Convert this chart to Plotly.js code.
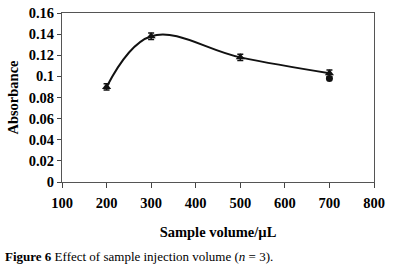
<!DOCTYPE html>
<html>
<head>
<meta charset="utf-8">
<script src="https://cdn.plot.ly/plotly-3.0.1.min.js"></script>
<style>html,body{margin:0;padding:0;background:#fff;}#chart{width:403px;height:268px;}</style>
</head>
<body>
<div id="chart"></div>
<script>
var volumes = [200, 300, 500, 700];
var absorbance = [0.090, 0.138, 0.118, 0.103];
var errors = [0.003, 0.003, 0.003, 0.003];
var circleX = [700];
var circleY = [0.098];
var xTicks = [100, 200, 300, 400, 500, 600, 700, 800];
var yTicks = [0, 0.02, 0.04, 0.06, 0.08, 0.1, 0.12, 0.14, 0.16];
var yTickText = ['0', '0.02', '0.04', '0.06', '0.08', '0.1', '0.12', '0.14', '0.16'];

var font = {family: 'Liberation Serif, Times New Roman, serif', color: '#000'};

var traces = [
  {
    x: volumes, y: absorbance, type: 'scatter', mode: 'lines+markers',
    line: {shape: 'spline', smoothing: 1.1, color: '#111', width: 2},
    marker: {symbol: 'triangle-up', size: 8, color: '#111'},
    error_y: {type: 'data', array: errors, visible: true, color: '#111', thickness: 1.5, width: 3}
  },
  {
    x: circleX, y: circleY, type: 'scatter', mode: 'markers',
    marker: {symbol: 'circle', size: 7, color: '#111'}
  }
];

var layout = {
  width: 403, height: 268,
  margin: {l: 62, r: 29, t: 13, b: 86},
  paper_bgcolor: '#fff', plot_bgcolor: '#fff',
  showlegend: false,
  xaxis: {
    range: [100, 800], tickvals: xTicks, ticks: 'outside', ticklen: 5, tickcolor: '#444',
    ticklabelstandoff: 3,
    showline: true, linecolor: '#555', linewidth: 1, mirror: true, showgrid: false, zeroline: false,
    tickfont: Object.assign({size: 14.5, weight: 'bold'}, font),
    title: {text: '<b>Sample volume/µL</b>', font: Object.assign({size: 14.5}, font), standoff: 16}
  },
  yaxis: {
    range: [0, 0.16], tickvals: yTicks, ticktext: yTickText, ticks: 'outside', ticklen: 4, tickcolor: '#444',
    showline: true, linecolor: '#555', linewidth: 1, mirror: true, showgrid: false, zeroline: false,
    tickfont: Object.assign({size: 14.5, weight: 'bold'}, font),
    title: {text: '<b>Absorbance</b>', font: Object.assign({size: 14.5}, font), standoff: 6}
  },
  annotations: [{
    xref: 'paper', yref: 'paper', x: -0.19, y: -0.44, xanchor: 'left', yanchor: 'middle',
    showarrow: false, align: 'left',
    text: '<b>Figure 6</b> Effect of sample injection volume (<i>n</i> = 3).',
    font: Object.assign({size: 13}, font)
  }]
};

Plotly.newPlot('chart', traces, layout, {displayModeBar: false, staticPlot: true});
</script>
</body>
</html>
